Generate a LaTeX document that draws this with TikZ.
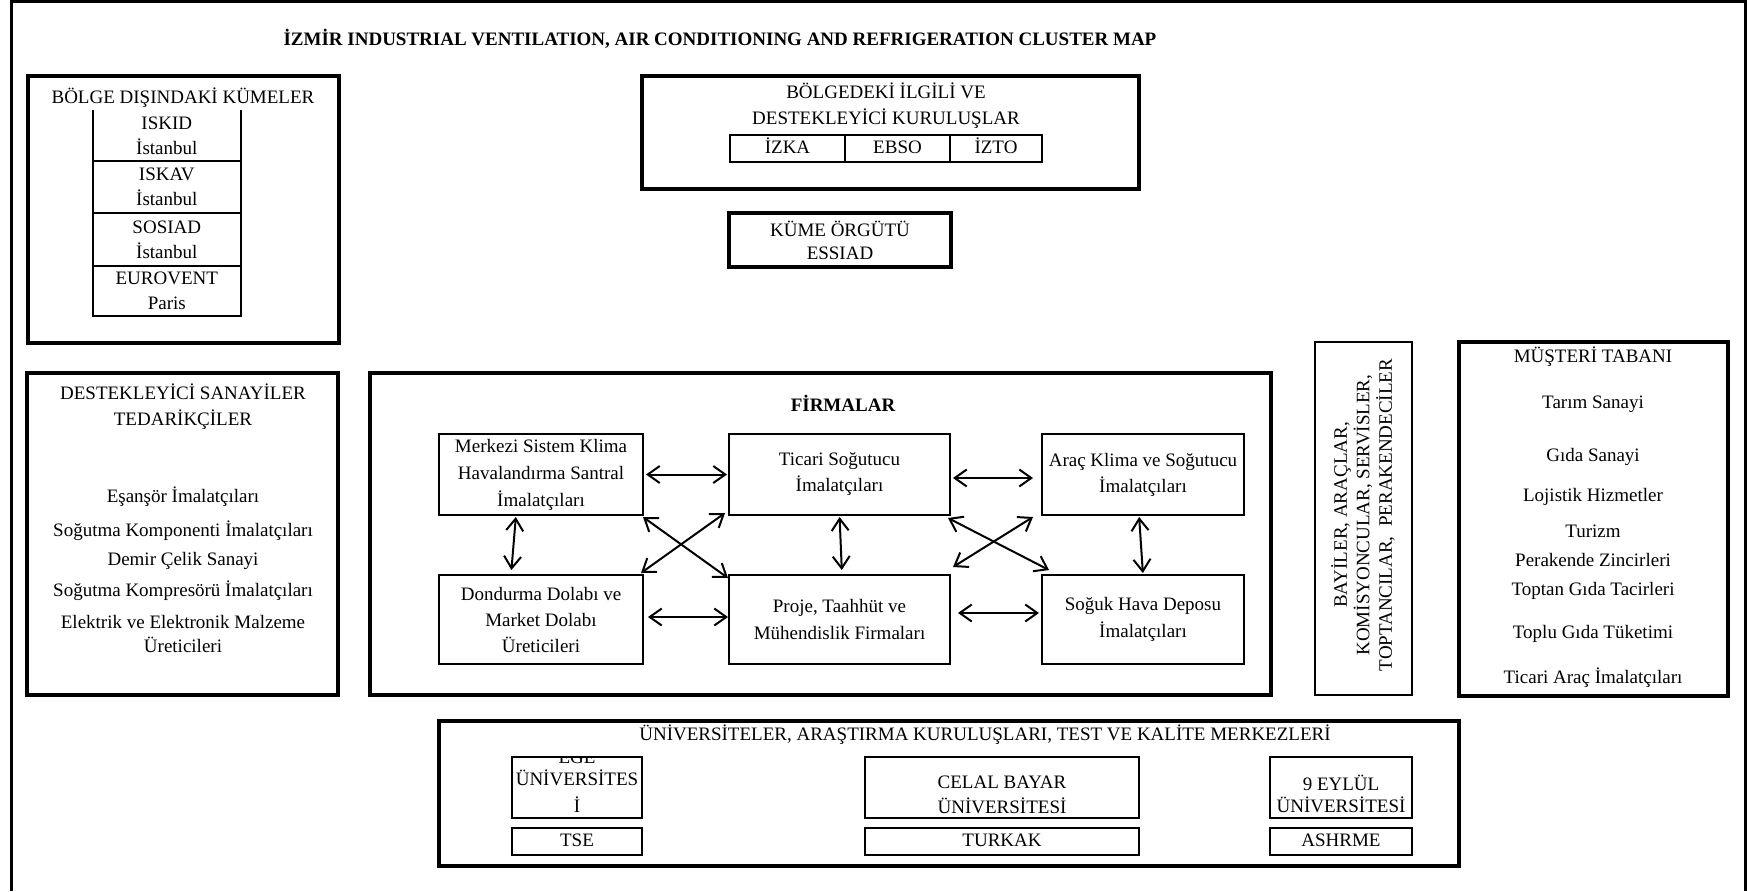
\documentclass[tikz,border=0pt]{standalone}
\usepackage{fontspec}
\setmainfont{Liberation Serif}
\usetikzlibrary{arrows.meta}
\begin{document}
\begin{tikzpicture}[x=1pt,y=-1pt,
  every node/.style={inner sep=0pt, outer sep=0pt},
  txt/.style={font=\fontsize{19}{26}\selectfont, align=center},
  heavybox/.style={draw, line width=4pt},
  lightbox/.style={draw, line width=2pt, font=\fontsize{19}{26}\selectfont, align=center},
  oneline/.style={text height=13.5pt, text depth=4pt},
  cell/.style={font=\fontsize{19}{25}\selectfont, align=center, minimum width=148.4pt},
  tline/.style={line width=2pt},
  link/.style={line width=2pt,
    {Straight Barb[length=12pt,width=17pt]}-{Straight Barb[length=12pt,width=17pt]}},
]
\useasboundingbox (0,0) rectangle (1747,891);

% page frame, open at the bottom
\draw[line width=3pt] (11,891) -- (11,1.5) -- (1745,1.5) -- (1745,891);

\node[font=\bfseries\fontsize{19}{22}\selectfont] (title) at (720,39)
  {İZMİR INDUSTRIAL VENTILATION, AIR CONDITIONING AND REFRIGERATION CLUSTER MAP};

% clusters outside the region
\node[heavybox, minimum width=311.5pt, minimum height=267pt] (outer) at (183.25,209.5) {};
\node[txt] (outertitle) at (183,98) {BÖLGE DIŞINDAKİ KÜMELER};
\node[cell, minimum height=51pt] (iskid) at (166.8,135.5) {ISKID\\İstanbul};
\node[cell, minimum height=52pt] (iskav) at (166.8,187) {ISKAV\\İstanbul};
\node[cell, minimum height=53pt] (sosiad) at (166.8,239.5) {SOSIAD\\İstanbul};
\node[cell, minimum height=50pt] (eurovent) at (166.8,291) {EUROVENT\\Paris};
\draw[tline] (iskid.north west) -- (eurovent.south west) -- (eurovent.south east) -- (iskid.north east);
\draw[tline] (iskav.north west) -- (iskav.north east);
\draw[tline] (sosiad.north west) -- (sosiad.north east);
\draw[tline] (eurovent.north west) -- (eurovent.north east);

% related and supporting institutions in the region
\node[heavybox, minimum width=497pt, minimum height=113pt] (inst) at (890.5,132.5) {};
\node[txt] (insttitle) at (886,105.5) {BÖLGEDEKİ İLGİLİ VE\\DESTEKLEYİCİ KURULUŞLAR};
\node[lightbox, oneline, minimum width=115pt, minimum height=27pt] (izka) at (787.5,148.5) {İZKA};
\node[lightbox, oneline, minimum width=105pt, minimum height=27pt] (ebso) at (897.5,148.5) {EBSO};
\node[lightbox, oneline, minimum width=92pt, minimum height=27pt] (izto) at (996,148.5) {İZTO};

% cluster organisation
\node[heavybox, minimum width=222pt, minimum height=54pt] (kume) at (840,240) {};
\node[txt, font=\fontsize{19}{23}\selectfont] (kumetext) at (840,240) {KÜME ÖRGÜTÜ\\ESSIAD};

% supporting industries
\node[heavybox, minimum width=311pt, minimum height=322pt] (supp) at (182.5,534) {};
\node[txt] (supptitle) at (183,406.5) {DESTEKLEYİCİ SANAYİLER\\TEDARİKÇİLER};
\node[txt] (supp1) at (183,497) {Eşanşör İmalatçıları};
\node[txt] (supp2) at (183,531) {Soğutma Komponenti İmalatçıları};
\node[txt] (supp3) at (183,561) {Demir Çelik Sanayi};
\node[txt] (supp4) at (183,591) {Soğutma Kompresörü İmalatçıları};
\node[txt, font=\fontsize{19}{24}\selectfont] (supp5) at (183,634) {Elektrik ve Elektronik Malzeme\\Üreticileri};

% firms
\node[heavybox, minimum width=901pt, minimum height=322pt] (firms) at (820.5,534) {};
\node[font=\bfseries\fontsize{19}{22}\selectfont] (firmstitle) at (843,403) {FİRMALAR};
\node[lightbox, minimum width=204pt, minimum height=81pt, font=\fontsize{19}{27}\selectfont] (merkezi) at (541,474.5)
  {Merkezi Sistem Klima\\Havalandırma Santral\\İmalatçıları};
\node[lightbox, minimum width=221pt, minimum height=81pt] (ticari) at (839.5,474.5)
  {Ticari Soğutucu\\İmalatçıları};
\node[lightbox, minimum width=202pt, minimum height=81pt] (arac) at (1143,474.5)
  {Araç Klima ve Soğutucu\\İmalatçıları};
\node[lightbox, minimum width=204pt, minimum height=89pt] (dond) at (541,619.5)
  {Dondurma Dolabı ve\\Market Dolabı\\Üreticileri};
\node[lightbox, minimum width=221pt, minimum height=89pt, font=\fontsize{19}{27}\selectfont] (proje) at (839.5,619.5)
  {Proje, Taahhüt ve\\Mühendislik Firmaları};
\node[lightbox, minimum width=202pt, minimum height=89pt, font=\fontsize{19}{27}\selectfont] (soguk) at (1143,619.5)
  {Soğuk Hava Deposu\\İmalatçıları};

\draw[link, shorten <=3pt, shorten >=2pt] (merkezi.east) -- (ticari.west);
\draw[link, shorten <=3pt, shorten >=9pt] ([yshift=-3.5pt]ticari.east) -- ([yshift=-3.5pt]arac.west);
\draw[link, shorten <=5pt, shorten >=1pt] ([yshift=2.5pt]dond.east) -- ([yshift=2.5pt]proje.west);
\draw[link, shorten <=8pt, shorten >=3pt] ([yshift=6.5pt]proje.east) -- ([yshift=6.5pt]soguk.west);
\draw[link, shorten <=2pt, shorten >=5pt] ([xshift=-25pt]merkezi.south) -- ([xshift=-30pt]dond.north);
\draw[link, shorten <=2pt, shorten >=5pt] (ticari.south) -- ([xshift=2.5pt]proje.north);
\draw[link, shorten <=2pt, shorten >=2pt] ([xshift=-4pt]arac.south) -- (soguk.north);
\draw[link] ([yshift=-2pt]merkezi.south east) -- ([xshift=-1pt,yshift=-3pt]proje.north west);
\draw[link] ([xshift=-4pt,yshift=2pt]ticari.south west) -- ([xshift=-2pt,yshift=2pt]dond.north east);
\draw[link] ([xshift=-2pt,yshift=-3pt]ticari.south east) -- ([xshift=7pt,yshift=5pt]soguk.north west);
\draw[link] ([xshift=-9pt,yshift=-2pt]arac.south west) -- ([xshift=3pt,yshift=8pt]proje.north east);

% dealers and services
\node[draw, line width=2pt, minimum width=97pt, minimum height=353pt] (dealers) at (1363.5,518.5) {};
\node[txt, rotate=90, font=\fontsize{19}{22.5}\selectfont] (dealerstext) at (1363,515)
  {BAYİLER, ARAÇLAR,\\KOMİSYONCULAR, SERVİSLER,\\TOPTANCILAR,\ \ PERAKENDECİLER};

% customer base
\node[heavybox, minimum width=269pt, minimum height=354pt] (cust) at (1593.5,519) {};
\node[txt] (cust0) at (1593,357) {MÜŞTERİ TABANI};
\node[txt] (cust1) at (1593,404) {Tarım Sanayi};
\node[txt] (cust2) at (1593,457) {Gıda Sanayi};
\node[txt] (cust3) at (1593,497) {Lojistik Hizmetler};
\node[txt] (cust4) at (1593,531) {Turizm};
\node[txt] (cust5) at (1593,560) {Perakende Zincirleri};
\node[txt] (cust6) at (1593,591) {Toptan Gıda Tacirleri};
\node[txt] (cust7) at (1593,634) {Toplu Gıda Tüketimi};
\node[txt] (cust8) at (1593,678) {Ticari Araç İmalatçıları};

% universities, research, test and quality centres
\node[heavybox, minimum width=1020pt, minimum height=145pt] (uni) at (949,793.5) {};
\node[txt] (unititle) at (985,735) {ÜNİVERSİTELER, ARAŞTIRMA KURULUŞLARI, TEST VE KALİTE MERKEZLERİ};
\node[draw, line width=2pt, minimum width=130pt, minimum height=61pt] (ege) at (577,787.5) {};
\begin{scope}
  \clip (512,758) rectangle (642,818);
  \node[txt, anchor=base] (egeword) at (577,763) {EGE};
\end{scope}
\node[txt, font=\fontsize{19}{27}\selectfont] (egetext) at (577,791.5) {ÜNİVERSİTES\\İ};
\node[lightbox, oneline, minimum width=130pt, minimum height=27pt] (tse) at (577,841.5) {TSE};
\node[draw, line width=2pt, minimum width=274pt, minimum height=61pt] (celal) at (1002,787.5) {};
\node[txt, font=\fontsize{19}{25}\selectfont] (celaltext) at (1002,794.5) {CELAL BAYAR\\ÜNİVERSİTESİ};
\node[lightbox, oneline, minimum width=274pt, minimum height=27pt] (turkak) at (1002,841.5) {TURKAK};
\node[draw, line width=2pt, minimum width=142pt, minimum height=61pt] (eylul) at (1341,787.5) {};
\node[txt, font=\fontsize{19}{22}\selectfont] (eylultext) at (1341,794) {9 EYLÜL\\ÜNİVERSİTESİ};
\node[lightbox, oneline, minimum width=142pt, minimum height=27pt] (ashrme) at (1341,841.5) {ASHRME};
\end{tikzpicture}
\end{document}
